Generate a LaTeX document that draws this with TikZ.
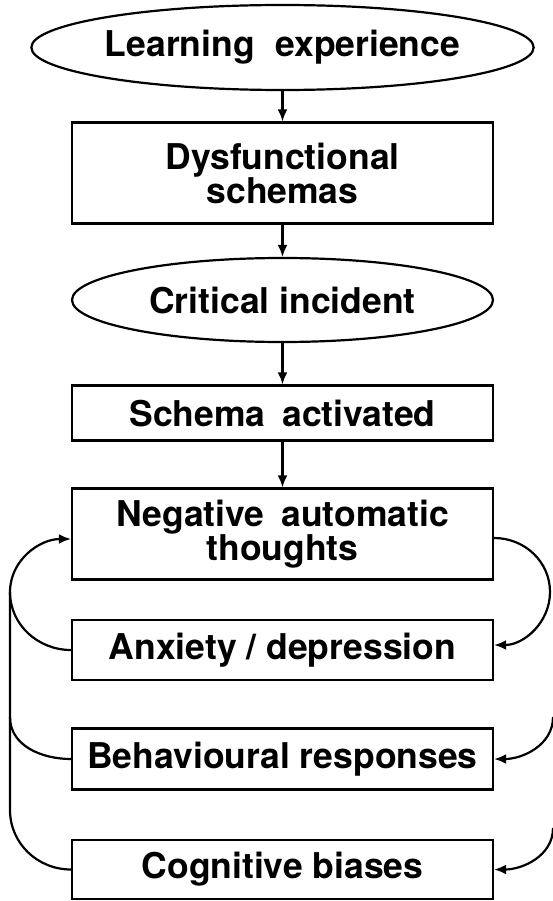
\documentclass[tikz,border=0pt]{standalone}
\usepackage{fontspec}
\setmainfont{TeX Gyre Heros}
\usetikzlibrary{shapes.geometric,arrows.meta}
\newcommand\diagfont{\bfseries\fontsize{35.5}{34}\selectfont\lineskiplimit=-100pt\relax}
\begin{document}
\begin{tikzpicture}[x=1pt,y=-1pt,line width=2.2pt,
  txt/.style={font=\diagfont, align=center, inner sep=0pt},
  box/.style={txt, draw, rectangle, minimum width=421pt},
  oval/.style={txt, draw, ellipse, minimum width=421pt},
  arr/.style={-{Latex[length=12pt,width=10pt]}}]
\useasboundingbox (0,0) rectangle (553,901);
\node[oval, minimum height=85pt] (le) at (282.5,47.5) {Learning\hspace{0.3em} experience};
\node[box, minimum height=101pt] (ds) at (282.5,173) {Dysfunctional\\schemas};
\node[oval, minimum height=84pt] (ci) at (282.5,300) {Critical incident};
\node[box, minimum height=55pt] (sa) at (282.5,413) {Schema\hspace{0.2em} activated};
\node[box, minimum height=91pt] (nat) at (282.5,534) {Negative\hspace{0.2em} automatic\\thoughts};
\node[box, minimum height=60pt] (anx) at (282.5,650) {Anxiety / depression};
\node[box, minimum height=61pt] (beh) at (282.5,759) {Behavioural responses};
\node[box, minimum height=59pt] (cog) at (282.5,869.5) {Cognitive biases};
\draw[arr] (le) -- (ds);
\draw[arr] (ds) -- (ci);
\draw[arr] (ci) -- (sa);
\draw[arr] (sa) -- (nat);
% left feedback loop
\coordinate (L1) at (10,592);
\coordinate (L2) at (10,717);
\coordinate (L3) at (10,810);
\draw[arr] (cog.west) to[out=180,in=-90] (L3) -- (L1) to[out=90,in=180] ([yshift=-5pt]nat.west);
\draw (anx.west) to[out=180,in=-90] (L1);
\draw (beh.west) to[out=180,in=-90] (L2);
% right arcs
\coordinate (R1) at (550,592);
\coordinate (R2) at (553,717);
\coordinate (R3) at (553,828);
\draw[arr] ([yshift=-4pt]nat.east) to[out=0,in=90] (R1) to[out=-90,in=0] ([yshift=5pt]anx.east);
\draw[arr] (R2) to[out=-90,in=0] (beh.east);
\draw[arr] (R3) to[out=-90,in=0] (cog.east);
\end{tikzpicture}
\end{document}
